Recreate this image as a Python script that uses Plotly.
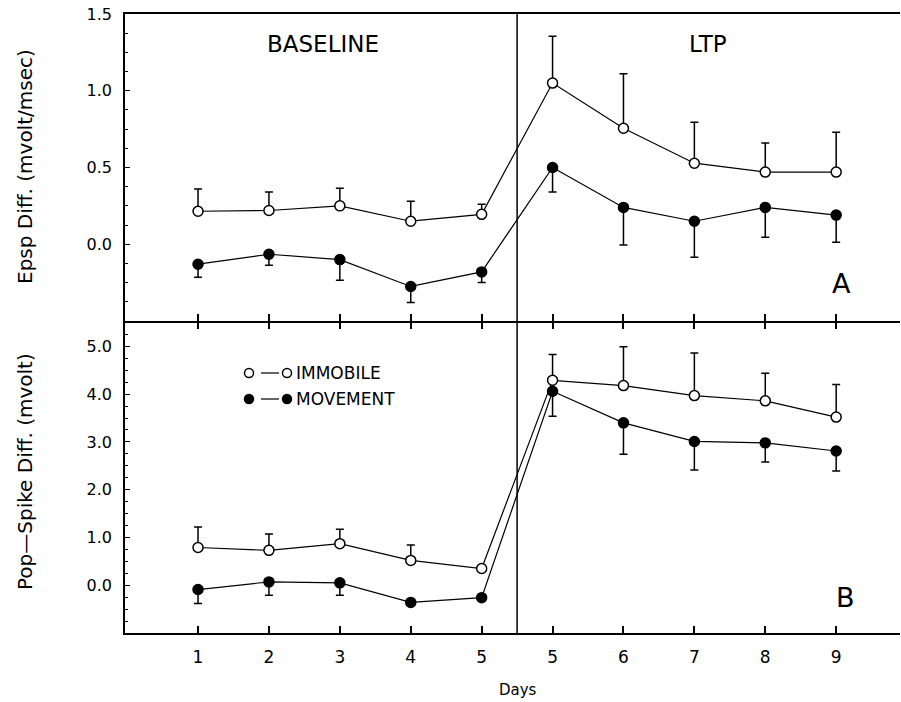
import plotly.graph_objects as go

# ---------------- data ----------------
day_labels = ["1", "2", "3", "4", "5", "5", "6", "7", "8", "9"]

# Panel A: Epsp Diff. (mvolt/msec)
epsp_immobile = [0.215, 0.22, 0.25, 0.15, 0.195, 1.05, 0.756, 0.528, 0.47, 0.47]
epsp_immobile_err = [0.145, 0.12, 0.115, 0.13, 0.065, 0.305, 0.354, 0.267, 0.19, 0.26]
epsp_movement = [-0.13, -0.065, -0.10, -0.275, -0.18, 0.50, 0.24, 0.15, 0.24, 0.19]
epsp_movement_err = [0.085, 0.072, 0.135, 0.105, 0.07, 0.16, 0.245, 0.235, 0.195, 0.177]

# Panel B: Pop-Spike Diff. (mvolt)
spike_immobile = [0.79, 0.73, 0.87, 0.52, 0.35, 4.29, 4.18, 3.97, 3.86, 3.52]
spike_immobile_err = [0.43, 0.34, 0.30, 0.32, 0.0, 0.54, 0.81, 0.89, 0.58, 0.68]
spike_movement = [-0.09, 0.07, 0.05, -0.36, -0.26, 4.06, 3.40, 3.01, 2.98, 2.81]
spike_movement_err = [0.29, 0.28, 0.26, 0.0, 0.0, 0.52, 0.66, 0.60, 0.40, 0.42]

epsp_ticks = [0.0, 0.5, 1.0, 1.5]
spike_ticks = [0.0, 1.0, 2.0, 3.0, 4.0, 5.0]

positions = list(range(1, len(day_labels) + 1))
FONT = "DejaVu Sans"

# ---------------- figure ----------------
fig = go.Figure()


def add_series(y, err, filled, xa, ya):
    zeros = [0] * len(y)
    fig.add_trace(go.Scatter(
        x=positions, y=y, mode="lines+markers",
        xaxis=xa, yaxis=ya,
        line=dict(color="black", width=1.2),
        marker=dict(symbol="circle", size=10,
                    color="black" if filled else "white",
                    line=dict(color="black", width=1.5)),
        error_y=dict(type="data", symmetric=False,
                     array=zeros if filled else err,
                     arrayminus=err if filled else zeros,
                     color="black", thickness=1.5, width=4),
        showlegend=False, hoverinfo="skip",
    ))


add_series(epsp_immobile, epsp_immobile_err, False, "x", "y")
add_series(epsp_movement, epsp_movement_err, True, "x", "y")
add_series(spike_immobile, spike_immobile_err, False, "x2", "y2")
add_series(spike_movement, spike_movement_err, True, "x2", "y2")

L, R, T, B = 125, 1, 14, 69
W, H = 901, 702
PW = W - L - R
PH = H - T - B


def px(xp):
    return (xp - L) / PW


def py(yp):
    return (H - B - yp) / PH


split = py(321)

axis_common = dict(showgrid=False, zeroline=False, showline=True,
                   linecolor="black", linewidth=1.5, tickcolor="black")

fig.update_layout(
    width=W, height=H,
    margin=dict(l=L, r=R, t=T, b=B),
    paper_bgcolor="white", plot_bgcolor="white",
    font=dict(family=FONT, color="black"),
    xaxis=dict(domain=[0, 1], anchor="y", range=[-0.03, 10.9],
               tickvals=positions, showticklabels=False,
               ticks="inside", ticklen=7, tickwidth=1.5, mirror=True,
               **axis_common),
    xaxis2=dict(domain=[0, 1], anchor="y2", matches="x", range=[-0.03, 10.9],
                tickvals=positions, ticktext=day_labels,
                ticks="inside", ticklen=7, tickwidth=1.5, mirror="allticks",
                tickfont=dict(size=17, family=FONT), ticklabelstandoff=8,
                **axis_common),
    yaxis=dict(domain=[split, 1], anchor="x", range=[-0.5, 1.5],
               tickvals=epsp_ticks, ticktext=[f"{v:.1f}" for v in epsp_ticks],
               ticks="inside", ticklen=5, tickwidth=1.2,
               minor=dict(tick0=0, dtick=0.125, ticks="inside", ticklen=3,
                          tickcolor="black", tickwidth=1),
               tickfont=dict(size=16, family=FONT), ticklabelstandoff=8,
               **axis_common),
    yaxis2=dict(domain=[0, split - 1.5 / PH], anchor="x2", range=[-1.0, 5.5],
                tickvals=spike_ticks, ticktext=[f"{v:.1f}" for v in spike_ticks],
                ticks="inside", ticklen=5, tickwidth=1.2,
                minor=dict(tick0=0, dtick=0.25, ticks="inside", ticklen=3,
                           tickcolor="black", tickwidth=1),
                tickfont=dict(size=16, family=FONT), ticklabelstandoff=8,
                **axis_common),
)

# separator between baseline and LTP
fig.add_shape(type="line", xref="x", yref="paper", x0=5.5, x1=5.5, y0=0, y1=1,
              line=dict(color="black", width=1.5))

annotations = [
    dict(text="BASELINE", x=px(323), y=py(44), size=23),
    dict(text="LTP", x=px(708), y=py(44), size=23),
    dict(text="A", x=px(841), y=py(283), size=27),
    dict(text="B", x=px(845), y=py(597), size=27),
    dict(text="Days", x=px(518), y=py(690), size=15),
]
for a in annotations:
    fig.add_annotation(text=a["text"], x=a["x"], y=a["y"], xref="paper", yref="paper",
                       showarrow=False, xanchor="center", yanchor="middle",
                       font=dict(size=a["size"], family=FONT, color="black"))

fig.add_annotation(text="Epsp Diff. (mvolt/msec)", x=px(25), y=py(167),
                   xref="paper", yref="paper", showarrow=False, textangle=-90,
                   xanchor="center", yanchor="middle",
                   font=dict(size=20, family=FONT, color="black"))
fig.add_annotation(text="Pop\u2014Spike Diff. (mvolt)", x=px(25), y=py(472),
                   xref="paper", yref="paper", showarrow=False, textangle=-90,
                   xanchor="center", yanchor="middle",
                   font=dict(size=20, family=FONT, color="black"))

# legend (drawn by hand to match the original key)
legend_items = [("IMMOBILE", False, 373), ("MOVEMENT", True, 399)]
for label, filled, yp in legend_items:
    for xc in (249, 287):
        fig.add_shape(type="circle", xref="paper", yref="paper",
                      xsizemode="pixel", ysizemode="pixel",
                      xanchor=px(xc), yanchor=py(yp), x0=-4.5, x1=4.5, y0=-4.5, y1=4.5,
                      line=dict(color="black", width=1.5),
                      fillcolor="black" if filled else "white")
    fig.add_shape(type="line", xref="paper", yref="paper",
                  x0=px(261), x1=px(279), y0=py(yp), y1=py(yp),
                  line=dict(color="black", width=1.2))
    fig.add_annotation(text=label, x=px(294), y=py(yp), xref="paper", yref="paper",
                       showarrow=False, xanchor="left", yanchor="middle",
                       font=dict(size=17, family=FONT, color="black"))

fig.write_html(
    "out.html",
    config=dict(displayModeBar=False),
    post_script="document.body.style.margin='0';document.body.style.padding='0';"
                "document.body.style.overflow='hidden';",
)
